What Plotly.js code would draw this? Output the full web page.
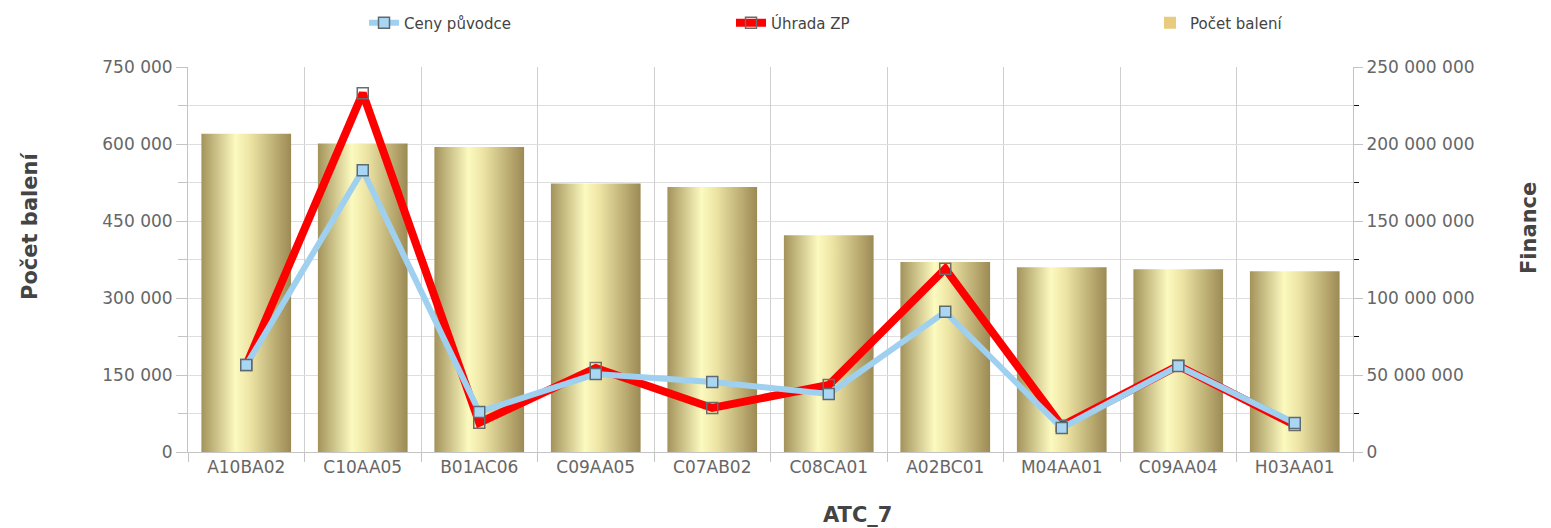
<!DOCTYPE html>
<html>
<head>
<meta charset="utf-8">
<script src="https://cdn.plot.ly/plotly-3.0.1.min.js"></script>
<style>
  html, body { margin: 0; padding: 0; background: #fff; }
  #chart { width: 1551px; height: 528px; }
</style>
</head>
<body>
<div id="chart"></div>
<script>
const categories = ['A10BA02','C10AA05','B01AC06','C09AA05','C07AB02','C08CA01','A02BC01','M04AA01','C09AA04','H03AA01'];
const pocetBaleni = [620000, 601000, 594000, 523000, 516000, 422000, 370000, 360000, 356000, 352000];
const cenyPuvodce = [56.5e6, 183e6, 26e6, 50.6e6, 45.5e6, 37.7e6, 91e6, 15.6e6, 55.8e6, 18.8e6];
const uhradaZP = [56.5e6, 233e6, 19e6, 54.5e6, 28.6e6, 43.5e6, 119e6, 17e6, 56e6, 17.5e6];

const FONT = 'DejaVu Sans, sans-serif';

const traces = [
  {
    type: 'bar', name: 'Počet balení', x: categories, y: pocetBaleni,
    width: 0.77, marker: { color: '#e8cb7e', line: { width: 0 } },
    legend: 'legend3', hoverinfo: 'x+y'
  },
  {
    type: 'scatter', mode: 'lines+markers', name: 'Úhrada ZP', x: categories, y: uhradaZP,
    yaxis: 'y2', line: { color: '#ff0000', width: 8 },
    marker: { symbol: 'square', size: 11, color: 'rgba(255,255,255,0)', line: { color: '#6b6b6b', width: 1.5 } },
    legend: 'legend2'
  },
  {
    type: 'scatter', mode: 'lines+markers', name: 'Ceny původce', x: categories, y: cenyPuvodce,
    yaxis: 'y2', line: { color: '#9fd0f0', width: 6 },
    marker: { symbol: 'square', size: 11, color: '#a9d6f3', line: { color: '#5f6a70', width: 1.5 } },
    legend: 'legend'
  }
];

const legendBase = {
  orientation: 'h', yanchor: 'middle', y: 1.114, xanchor: 'left',
  font: { family: FONT, size: 15, color: '#444' }, bgcolor: 'rgba(0,0,0,0)'
};

const layout = {
  width: 1551, height: 528,
  margin: { l: 188, r: 198, t: 67, b: 76, autoexpand: false },
  paper_bgcolor: '#fff', plot_bgcolor: '#fff',
  separators: ', ',
  font: { family: FONT, size: 17, color: '#666' },
  showlegend: true,
  legend: Object.assign({}, legendBase, { x: (364 - 188) / 1165 }),
  legend2: Object.assign({}, legendBase, { x: (731 - 188) / 1165 }),
  legend3: Object.assign({}, legendBase, { x: (1150 - 188) / 1165 }),
  xaxis: {
    type: 'category', tickson: 'boundaries', range: [-0.5, categories.length - 0.5],
    showgrid: true, gridcolor: '#cfcfcf', gridwidth: 1,
    showline: true, linecolor: '#c4c4c4', linewidth: 1,
    ticks: 'outside', ticklen: 9, tickcolor: '#c4c4c4',
    tickfont: { family: FONT, size: 17, color: '#666' },
    zeroline: false, fixedrange: true
  },
  yaxis: {
    range: [0, 750000], tickvals: [0,150000,300000,450000,600000,750000], tickformat: ',d',
    showgrid: true, gridcolor: '#dedede', gridwidth: 1,
    showline: true, linecolor: '#c4c4c4', linewidth: 1,
    ticks: 'outside', ticklen: 11, tickcolor: '#c4c4c4',
    minor: { dtick: 75000, showgrid: true, gridcolor: '#dedede', ticks: 'outside', ticklen: 9, tickcolor: '#c4c4c4' },
    tickfont: { family: FONT, size: 17, color: '#666' },
    zeroline: false, fixedrange: true
  },
  yaxis2: {
    overlaying: 'y', side: 'right',
    range: [0, 250e6], dtick: 50e6, tickformat: ',d',
    showgrid: false, showline: true, linecolor: '#c4c4c4', linewidth: 1,
    ticks: 'outside', ticklen: 9, tickcolor: '#c4c4c4',
    minor: { dtick: 25e6, ticks: 'outside', ticklen: 5, tickcolor: '#111', tickwidth: 1.5, showgrid: false },
    tickfont: { family: FONT, size: 17, color: '#666' },
    zeroline: false, fixedrange: true
  },
  annotations: [
    { text: '<b>Počet balení</b>', xref: 'paper', yref: 'paper',
      x: (30 - 188) / 1165, y: (452 - 226) / 385, xanchor: 'center', yanchor: 'middle',
      textangle: -90, showarrow: false, font: { family: FONT, size: 21, color: '#444' } },
    { text: '<b>Finance</b>', xref: 'paper', yref: 'paper',
      x: (1529 - 188) / 1165, y: (452 - 228) / 385, xanchor: 'center', yanchor: 'middle',
      textangle: -90, showarrow: false, font: { family: FONT, size: 21, color: '#444' } },
    { text: '<b>ATC_7</b>', xref: 'paper', yref: 'paper',
      x: (857 - 188) / 1165, y: (452 - 515) / 385, xanchor: 'center', yanchor: 'middle',
      showarrow: false, font: { family: FONT, size: 21, color: '#444' } }
  ]
};

Plotly.newPlot('chart', traces, layout, { displayModeBar: false, staticPlot: true }).then(function (gd) {
  const NS = 'http://www.w3.org/2000/svg';
  const svg = gd.querySelector('.main-svg');
  let defs = svg.querySelector('defs');
  if (!defs) { defs = document.createElementNS(NS, 'defs'); svg.insertBefore(defs, svg.firstChild); }
  const grad = document.createElementNS(NS, 'linearGradient');
  grad.setAttribute('id', 'goldBarGrad');
  grad.setAttribute('x1', '0'); grad.setAttribute('y1', '0');
  grad.setAttribute('x2', '1'); grad.setAttribute('y2', '0');
  [['0', '#a3935b'], ['0.38', '#fcfabf'], ['0.55', '#ece3a3'], ['1', '#9c8a54']].forEach(function (s) {
    const st = document.createElementNS(NS, 'stop');
    st.setAttribute('offset', s[0]);
    st.setAttribute('stop-color', s[1]);
    grad.appendChild(st);
  });
  defs.appendChild(grad);
  gd.querySelectorAll('.barlayer .point path').forEach(function (p) {
    p.style.fill = 'url(#goldBarGrad)';
  });
});
</script>
</body>
</html>
